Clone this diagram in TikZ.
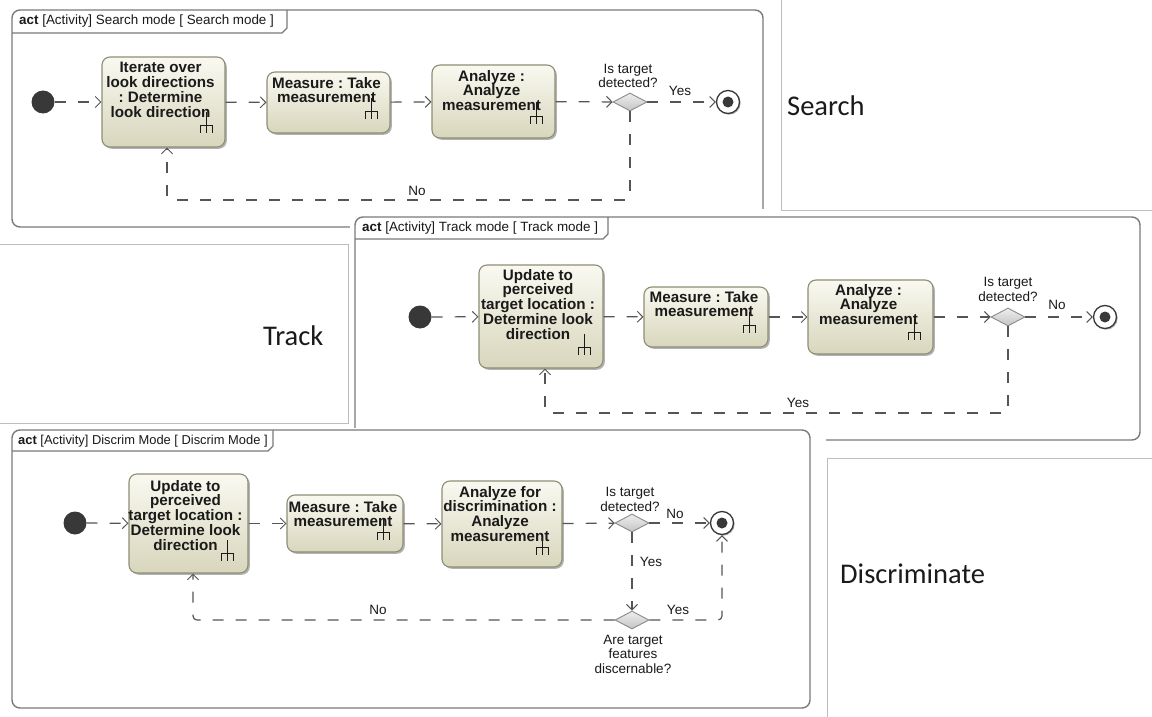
\documentclass[tikz,border=0pt]{standalone}
\usepackage{fontspec}
\setmainfont{Liberation Sans}
\newfontfamily\captionfont{Carlito}
\usetikzlibrary{arrows.meta,shapes.geometric,shadows}
\frenchspacing

\definecolor{framegray}{HTML}{7A7A7A}
\definecolor{panelgray}{HTML}{BDBDBD}
\definecolor{flowgray}{HTML}{555555}
\definecolor{actborder}{HTML}{8E8E76}
\definecolor{acttop}{HTML}{F9F9F1}
\definecolor{actbottom}{HTML}{D8D6BC}
\definecolor{dectop}{HTML}{EEEEEE}
\definecolor{decbottom}{HTML}{C4C4C4}
\definecolor{decborder}{HTML}{8A8A8A}
\definecolor{nodedark}{HTML}{383838}
\definecolor{inkdark}{HTML}{1A1A1A}

\tikzset{
  frame/.style={draw=framegray, line width=1.4pt},
  panel/.style={draw=panelgray, line width=0.9pt},
  tabtext/.style={anchor=west, inner sep=0pt, text=inkdark, font=\fontsize{13.4}{14}\selectfont},
  action/.style={draw=actborder, line width=1.1pt, rounded corners=8pt,
    top color=acttop, bottom color=actbottom, inner sep=0pt,
    drop shadow={shadow xshift=1.8pt, shadow yshift=-1.8pt, opacity=0.3, fill=black}},
  acttext/.style={anchor=north, align=center, inner sep=0pt, text=inkdark,
    font=\bfseries\fontsize{15.2}{14.8}\selectfont},
  guard/.style={inner sep=0pt, align=center, text=inkdark, font=\fontsize{13.5}{14.5}\selectfont},
  decision/.style={diamond, draw=decborder, line width=0.9pt, top color=dectop, bottom color=decbottom,
    minimum width=34pt, minimum height=18pt, inner sep=0pt},
  initial/.style={circle, fill=nodedark, minimum size=23pt, inner sep=0pt},
  final/.style={circle, draw=nodedark, line width=1.3pt, fill=white, minimum size=23pt, inner sep=0pt,
    drop shadow={shadow xshift=1.2pt, shadow yshift=-1.2pt, opacity=0.3, fill=black},
    path picture={\fill[nodedark] (path picture bounding box.center) circle (5.5pt);}},
  flow/.style={draw=flowgray, line width=1.2pt, dash pattern=on 11pt off 12pt, rounded corners=4pt,
    -{Straight Barb[length=5.5pt,width=11pt,line width=1pt]}},
  rake/.pic={\draw[draw=inkdark, line width=1.3pt] (-6pt,0pt) -- (-6pt,7pt) -- (6pt,7pt) -- (6pt,0pt)
      (0pt,0pt) -- (0pt,21pt);},
  modelabel/.style={anchor=base west, inner sep=0pt, text=inkdark,
    font=\captionfont\fontsize{28.5}{30}\selectfont},
}

\begin{document}
\begin{tikzpicture}[x=1pt, y=-1pt]
  % page
  \fill[white] (0,0) rectangle (1152,717);
  \useasboundingbox (0,0) rectangle (1152,717);

  % ---------------- Search mode ----------------
  \draw[frame, fill=white, rounded corners=8pt] (12,10) rectangle (763,227);
  \draw[frame] (12,33) -- (282,33) -- (287,28) -- (287,10);
  \node[tabtext] (sTab) at (19,21.5) {\textbf{act} [Activity] Search mode [ Search mode ]};

  \node[initial] (sI) at (43,102) {};
  \node[action, minimum width=123pt, minimum height=90pt] (sA1) at (163.5,102) {};
  \node[acttext] (sT1) at ([xshift=-3pt, yshift=-5.5pt]sA1.north) {Iterate over\\look directions\\: Determine\\look direction};
  \pic at ([shift={(-19pt,15pt)}]sA1.south east) {rake};
  \node[action, minimum width=123pt, minimum height=61pt] (sA2) at (328.5,102.5) {};
  \node[acttext] (sT2) at ([xshift=-2pt, yshift=-5.5pt]sA2.north) {Measure : Take\\measurement};
  \pic at ([shift={(-19pt,15pt)}]sA2.south east) {rake};
  \node[action, minimum width=123pt, minimum height=73pt] (sA3) at (493.5,101.5) {};
  \node[acttext] (sT3) at ([xshift=-2pt, yshift=-5.5pt]sA3.north) {Analyze :\\Analyze\\measurement};
  \pic at ([shift={(-19pt,15pt)}]sA3.south east) {rake};
  \node[decision] (sD) at (630,102) {};
  \node[final] (sF) at (728,102) {};
  \coordinate (sLoop) at (167,200);

  \draw[flow] (sI) -- (sA1);
  \draw[flow] (sA1) -- (sA2);
  \draw[flow] (sA2) -- (sA3);
  \draw[flow] (sA3) -- (sD);
  \draw[flow] (sD) -- (sF);
  \draw[flow] (sD.south) |- (sLoop) -- (sA1.south -| sLoop);

  \node[guard] (sQ) at (628,76) {Is target\\detected?};
  \node[guard] (sYes) at (680,91) {Yes};
  \node[guard] (sNo) at (417,191) {No};

  % ---------------- Track caption panel ----------------
  \draw[panel] (0,244) -- (348,244) -- (348,423) -- (0,423);
  \node[modelabel] (trackLabel) at (263,345) {Track};

  % ---------------- Track mode ----------------
  \fill[white] (350,209) rectangle (1152,452);
  \draw[frame, fill=white, rounded corners=8pt] (355,217) rectangle (1140,440);
  \draw[frame] (355,239) -- (603,239) -- (608,234) -- (608,217);
  \node[tabtext] (tTab) at (362,228) {\textbf{act} [Activity] Track mode [ Track mode ]};

  \node[initial] (tI) at (420,317) {};
  \node[action, minimum width=124pt, minimum height=103pt] (tB1) at (541,316.5) {};
  \node[acttext] (tT1) at ([xshift=-3pt, yshift=-4.5pt]tB1.north) {Update to\\perceived\\target location :\\Determine look\\direction};
  \pic at ([shift={(-19pt,14pt)}]tB1.south east) {rake};
  \node[action, minimum width=124pt, minimum height=60pt] (tB2) at (706,317) {};
  \node[acttext] (tT2) at ([xshift=-2pt, yshift=-4.5pt]tB2.north) {Measure : Take\\measurement};
  \pic at ([shift={(-19pt,15pt)}]tB2.south east) {rake};
  \node[action, minimum width=125pt, minimum height=74pt] (tB3) at (870.5,317) {};
  \node[acttext] (tT3) at ([xshift=-2pt, yshift=-4.5pt]tB3.north) {Analyze :\\Analyze\\measurement};
  \pic at ([shift={(-19pt,15pt)}]tB3.south east) {rake};
  \node[decision] (tD) at (1008,317) {};
  \node[final] (tF) at (1105,317) {};
  \coordinate (tLoop) at (545,413);

  \draw[flow] (tI) -- (tB1);
  \draw[flow] (tB1) -- (tB2);
  \draw[flow] (tB2) -- (tB3);
  \draw[flow] (tB3) -- (tD);
  \draw[flow] (tD) -- (tF);
  \draw[flow] (tD.south) |- (tLoop) -- (tB1.south -| tLoop);

  \node[guard] (tQ) at (1008,289.5) {Is target\\detected?};
  \node[guard] (tNo) at (1057,305) {No};
  \node[guard] (tYes) at (798,403) {Yes};

  % ---------------- Search caption panel ----------------
  \draw[panel] (781.5,0) -- (781.5,210) -- (1152,210);
  \node[modelabel] (searchLabel) at (787,115) {Search};

  % ---------------- Discrim mode ----------------
  \fill[white] (0,428) rectangle (826,717);
  \draw[frame, fill=white, rounded corners=8pt] (12,430) rectangle (810,708);
  \draw[frame] (12,451) -- (268,451) -- (273,446) -- (273,430);
  \node[tabtext, font=\fontsize{12.9}{14}\selectfont] (dTab) at (18,441) {\textbf{act} [Activity] Discrim Mode [ Discrim Mode ]};

  \node[initial] (dI) at (75,523) {};
  \node[action, minimum width=119pt, minimum height=99pt] (dC1) at (188.5,523.5) {};
  \node[acttext] (dT1) at ([xshift=-3pt, yshift=-6.5pt]dC1.north) {Update to\\perceived\\target location :\\Determine look\\direction};
  \pic at ([shift={(-21pt,13pt)}]dC1.south east) {rake};
  \node[action, minimum width=116pt, minimum height=57pt] (dC2) at (345,523.5) {};
  \node[acttext] (dT2) at ([xshift=-2pt, yshift=-6.5pt]dC2.north) {Measure : Take\\measurement};
  \pic at ([shift={(-20pt,13pt)}]dC2.south east) {rake};
  \node[action, minimum width=120pt, minimum height=86pt] (dC3) at (502,524) {};
  \node[acttext] (dT3) at ([xshift=-2pt, yshift=-5.5pt]dC3.north) {Analyze for\\discrimination :\\Analyze\\measurement};
  \pic at ([shift={(-20pt,13pt)}]dC3.south east) {rake};
  \node[decision] (dD1) at (632,523) {};
  \node[final] (dF) at (722,523) {};
  \node[decision] (dD2) at (632,620) {};
  \coordinate (dLoopR) at (722,620);
  \coordinate (dLoopL) at (193,620);

  \draw[flow] (dI) -- (dC1);
  \draw[flow] (dC1) -- (dC2);
  \draw[flow] (dC2) -- (dC3);
  \draw[flow] (dC3) -- (dD1);
  \draw[flow] (dD1) -- (dF);
  \draw[flow] (dD1) -- (dD2);
  \draw[flow] (dD2.east) -- (dLoopR) -- (dF.south -| dLoopR);
  \draw[flow] (dD2.west) -- (dLoopL) -- (dC1.south -| dLoopL);

  \node[guard] (dQ1) at (630,499.5) {Is target\\detected?};
  \node[guard] (dNo1) at (675,514) {No};
  \node[guard] (dYes1) at (651,562) {Yes};
  \node[guard] (dYes2) at (678,610) {Yes};
  \node[guard] (dNo2) at (378,610) {No};
  \node[guard] (dQ2) at (633,654) {Are target\\features\\discernable?};

  % ---------------- Discriminate caption panel ----------------
  \draw[panel] (1152,458) -- (827.5,458) -- (827.5,717);
  \node[modelabel] (discLabel) at (840,583) {Discriminate};
\end{tikzpicture}
\end{document}
